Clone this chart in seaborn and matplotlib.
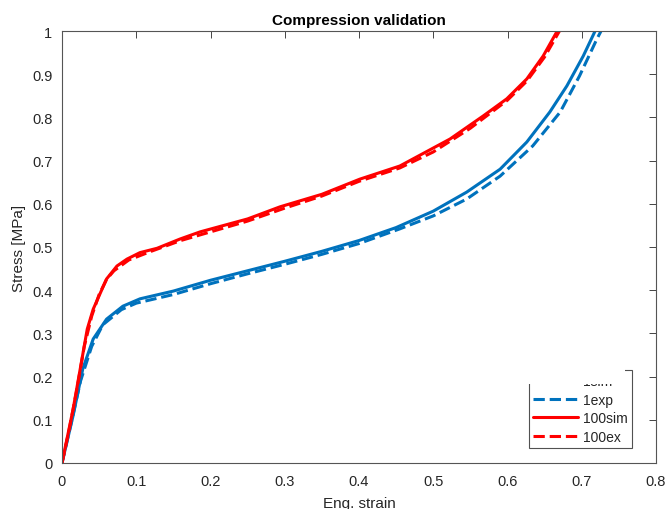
import matplotlib
matplotlib.use("Agg")
import matplotlib.pyplot as plt
import numpy as np
import pandas as pd
import seaborn as sns
from matplotlib.patches import Rectangle

strain_1sim = [0, 0.015, 0.028, 0.042, 0.06, 0.082, 0.105, 0.15, 0.2, 0.25, 0.3,
               0.35, 0.4, 0.45, 0.5, 0.545, 0.59, 0.626, 0.657, 0.68, 0.702, 0.718]
stress_1sim = [0, 0.11, 0.218, 0.287, 0.333, 0.363, 0.38, 0.398, 0.423, 0.445, 0.467,
               0.49, 0.515, 0.545, 0.583, 0.627, 0.68, 0.743, 0.8125, 0.873, 0.942, 1.0]

strain_1exp = [0, 0.012, 0.025, 0.04, 0.055, 0.08, 0.1, 0.15, 0.2, 0.25, 0.3, 0.35,
               0.4, 0.455, 0.5, 0.545, 0.59, 0.634, 0.671, 0.697, 0.72, 0.726]
stress_1exp = [0, 0.09, 0.19, 0.27, 0.32, 0.355, 0.37, 0.39, 0.415, 0.438, 0.46, 0.483,
               0.508, 0.542, 0.572, 0.611, 0.664, 0.734, 0.8125, 0.896, 0.98, 1.0]

strain_100sim = [0, 0.015, 0.034, 0.042, 0.06, 0.074, 0.0875, 0.105, 0.128, 0.159, 0.186,
                 0.25, 0.2936, 0.35, 0.401, 0.455, 0.5226, 0.567, 0.599, 0.626, 0.648, 0.667]
stress_100sim = [0, 0.125, 0.31, 0.356, 0.426, 0.456, 0.472, 0.487, 0.497, 0.5185, 0.535,
                 0.565, 0.593, 0.622, 0.657, 0.6875, 0.75, 0.803, 0.843, 0.889, 0.942, 1.0]

strain_100ex = [0, 0.01, 0.02, 0.03, 0.04, 0.05, 0.06, 0.07, 0.09, 0.12, 0.16, 0.2, 0.25,
                0.3, 0.35, 0.4, 0.455, 0.5, 0.55, 0.6, 0.626, 0.65, 0.67]
stress_100ex = [0, 0.08, 0.17, 0.27, 0.34, 0.39, 0.425, 0.445, 0.47, 0.49, 0.515, 0.535, 0.56,
                0.59, 0.618, 0.652, 0.683, 0.72, 0.775, 0.84, 0.884, 0.94, 1.0]

BLUE = "#0072BD"
RED = "#FF0000"
GRAY = "#262626"

sns.set_theme(style="white")
plt.rcParams.update({
    "font.family": ["Liberation Sans", "DejaVu Sans"],
    "font.size": 10,
    "axes.edgecolor": GRAY,
    "axes.labelcolor": GRAY,
    "xtick.color": GRAY,
    "ytick.color": GRAY,
    "text.color": GRAY,
})

fig = plt.figure(figsize=(6.67, 5.1), dpi=100)
ax = fig.add_axes([62 / 667, 1 - 464 / 510, 594 / 667, 432 / 510])

series = [
    ("1sim", strain_1sim, stress_1sim, BLUE, "-"),
    ("1exp", strain_1exp, stress_1exp, BLUE, "--"),
    ("100sim", strain_100sim, stress_100sim, RED, "-"),
    ("100ex", strain_100ex, stress_100ex, RED, "--"),
]
for label, x, y, color, ls in series:
    df = pd.DataFrame({"strain": x, "stress": y})
    line_kw = {"dashes": (5, 3)} if ls == "--" else {}
    sns.lineplot(data=df, x="strain", y="stress", ax=ax, color=color, linewidth=2.2,
                 linestyle=ls, label=label, sort=False, estimator=None, **line_kw)

ax.set_xlim(0, 0.8)
ax.set_ylim(0, 1)
ax.set_xticks(np.arange(0, 0.81, 0.1))
ax.set_yticks(np.arange(0, 1.01, 0.1))
ax.set_xticklabels(["0", "0.1", "0.2", "0.3", "0.4", "0.5", "0.6", "0.7", "0.8"])
ax.set_yticklabels(["0", "0.1", "0.2", "0.3", "0.4", "0.5", "0.6", "0.7", "0.8", "0.9", "1"])
ax.tick_params(direction="in", length=5, width=0.6, top=True, right=True,
               labelsize=10.5)
ax.tick_params(axis="x", pad=8)
ax.tick_params(axis="y", pad=7)
for s in ax.spines.values():
    s.set_linewidth(0.8)
    s.set_color("#555555")

ax.set_xlabel("Eng. strain", fontsize=11, labelpad=6)
ax.set_ylabel("Stress [MPa]", fontsize=11, labelpad=4)
ax.set_title("Compression validation", fontsize=11, fontweight="bold", pad=5, color="black")

leg = ax.legend(loc="lower right", bbox_to_anchor=(0.96, 0.035), frameon=True,
                fancybox=False, edgecolor=GRAY, fontsize=10, handlelength=3.2,
                labelspacing=0.33, borderpad=0.3, handletextpad=0.4, borderaxespad=0)
leg.get_frame().set_linewidth(0.8)

# clipped top of the legend box, as in the original figure
fig.patches.append(Rectangle((528 / 667, 1 - 385 / 510), 97 / 667, 22 / 510,
                             transform=fig.transFigure, facecolor="white",
                             edgecolor="none", zorder=10))

fig.savefig("out.png", dpi=100)
